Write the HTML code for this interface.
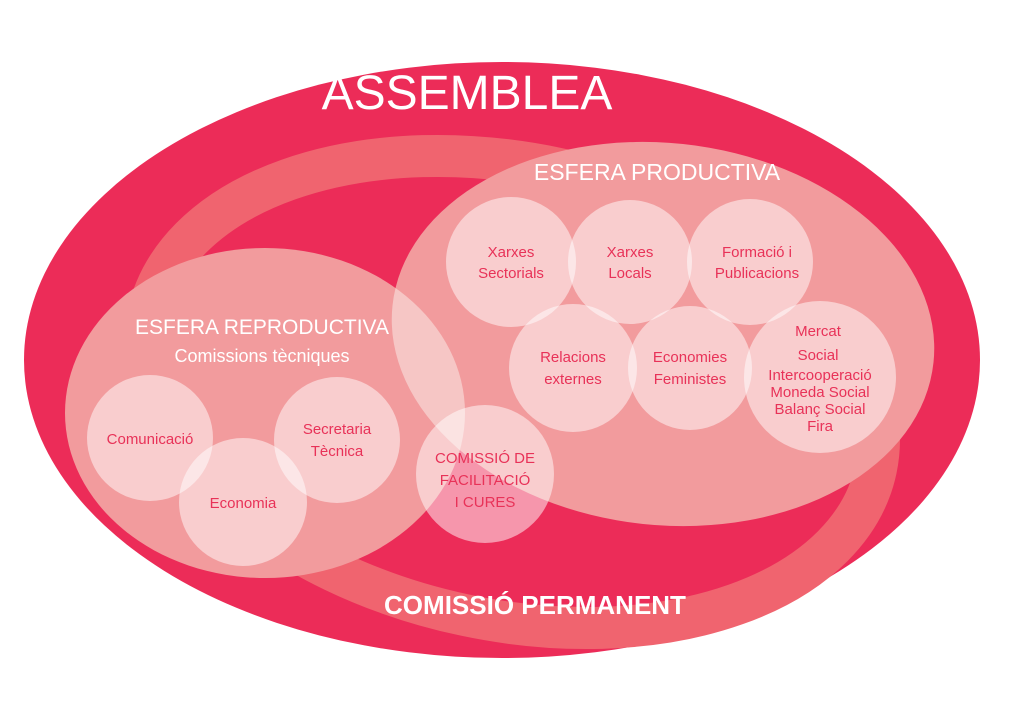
<!DOCTYPE html>
<html><head><meta charset="utf-8"><style>
html,body{margin:0;padding:0;background:#fff;}
svg{display:block}
text{font-family:"Liberation Sans",sans-serif;}
.c{fill:#e83258;font-size:15px;text-anchor:middle}
.w{fill:#fff;text-anchor:middle}
</style></head><body>
<svg width="1024" height="701" viewBox="0 0 1024 701" xmlns="http://www.w3.org/2000/svg">
<defs>
<clipPath id="rep"><ellipse cx="265" cy="413" rx="200" ry="165"/></clipPath>
</defs>
<rect width="1024" height="701" fill="#fff"/>
<ellipse cx="502" cy="360" rx="478" ry="298" fill="#ec2c58"/>
<ellipse cx="512" cy="392" rx="372" ry="228" transform="rotate(12 512 392)" fill="none" stroke="#f0646f" stroke-width="42"/>
<ellipse cx="663" cy="334" rx="272" ry="191" transform="rotate(6 663 334)" fill="#f29b9d"/>
<ellipse cx="265" cy="413" rx="200" ry="165" fill="#f29b9d"/>
<g clip-path="url(#rep)">
<ellipse cx="663" cy="334" rx="272" ry="191" transform="rotate(6 663 334)" fill="#f6c6c5"/>
</g>
<g fill="#fff" fill-opacity="0.5">
<circle cx="511" cy="262" r="65"/>
<circle cx="630" cy="262" r="62"/>
<circle cx="750" cy="262" r="63"/>
<circle cx="573" cy="368" r="64"/>
<circle cx="690" cy="368" r="62"/>
<circle cx="820" cy="377" r="76"/>
<circle cx="150" cy="438" r="63"/>
<circle cx="337" cy="440" r="63"/>
<circle cx="243" cy="502" r="64"/>
<circle cx="485" cy="474" r="69"/>
</g>
<text x="467" y="109" class="w" font-size="48">ASSEMBLEA</text>
<text x="657" y="180" class="w" font-size="23">ESFERA PRODUCTIVA</text>
<text x="262" y="334" class="w" font-size="21">ESFERA REPRODUCTIVA</text>
<text x="262" y="362" class="w" font-size="18">Comissions tècniques</text>
<text x="535" y="614" class="w" font-size="26" font-weight="bold">COMISSIÓ PERMANENT</text>
<text class="c"><tspan x="511" y="257">Xarxes</tspan><tspan x="511" y="278">Sectorials</tspan></text>
<text class="c"><tspan x="630" y="257">Xarxes</tspan><tspan x="630" y="278">Locals</tspan></text>
<text class="c"><tspan x="757" y="257">Formació i</tspan><tspan x="757" y="278">Publicacions</tspan></text>
<text class="c"><tspan x="573" y="362">Relacions</tspan><tspan x="573" y="384">externes</tspan></text>
<text class="c"><tspan x="690" y="362">Economies</tspan><tspan x="690" y="384">Feministes</tspan></text>
<text class="c" font-size="18"><tspan x="818" y="336">Mercat</tspan><tspan x="818" y="360">Social</tspan></text>
<text class="c" font-size="12"><tspan x="820" y="380">Intercooperació</tspan><tspan x="820" y="397">Moneda Social</tspan><tspan x="820" y="414">Balanç Social</tspan><tspan x="820" y="431">Fira</tspan></text>
<text x="150" y="444" class="c">Comunicació</text>
<text class="c"><tspan x="337" y="434">Secretaria</tspan><tspan x="337" y="456">Tècnica</tspan></text>
<text x="243" y="508" class="c">Economia</text>
<text class="c"><tspan x="485" y="463">COMISSIÓ DE</tspan><tspan x="485" y="485">FACILITACIÓ</tspan><tspan x="485" y="507">I CURES</tspan></text>
</svg>
</body></html>
